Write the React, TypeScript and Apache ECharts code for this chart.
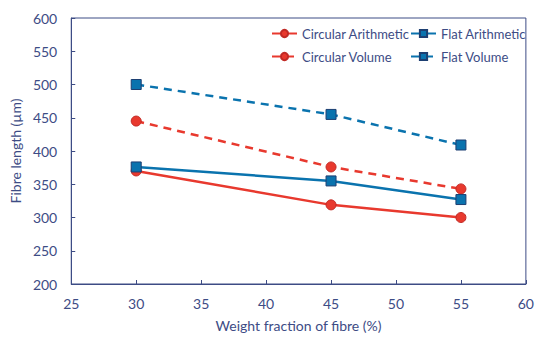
import React, { useEffect, useRef } from "react";
import * as echarts from "echarts";

const xValues = [30, 45, 55];
const circularArithmetic = [370, 319, 300];
const flatArithmetic = [376, 355, 327];
const circularVolume = [445, 376, 343];
const flatVolume = [500, 455, 409];

const RED = "#e8392e";
const RED_BORDER = "#c12a25";
const BLUE = "#0a73ae";
const BLUE_BORDER = "#1d3f72";
const AXIS = "#3d4c85";
const TEXT = "#3d4c85";
const FONT = "Lato";

function pairs(vals: number[]) {
  return xValues.map((x, i) => [x, vals[i]]);
}

export default function App() {
  const ref = useRef<HTMLDivElement>(null);
  useEffect(() => {
    if (!ref.current) return;
    const chart = echarts.init(ref.current, undefined, { renderer: "svg" });
    const mk = (name: string, data: number[], circ: boolean, dashed: boolean) => ({
      name,
      type: "line",
      data: pairs(data),
      symbol: circ ? "circle" : "rect",
      symbolSize: 10,
      lineStyle: {
        color: circ ? RED : BLUE,
        width: 2.5,
        type: dashed ? [8, 6] : "solid",
      },
      itemStyle: {
        color: circ ? RED : BLUE,
        borderColor: circ ? RED_BORDER : BLUE_BORDER,
        borderWidth: 1,
      },
    });
    const legendCommon = {
      orient: "vertical",
      top: 27,
      padding: 0,
      itemGap: 10,
      itemWidth: 25,
      itemHeight: 9,
      textStyle: { color: TEXT, fontFamily: FONT, fontSize: 13, overflow: "none" },
    };
    chart.setOption({
      animation: false,
      textStyle: { fontFamily: FONT },
      legend: [
        { ...legendCommon, left: 271, data: ["Circular Arithmetic", "Circular Volume"] },
        { ...legendCommon, left: 410, width: 125, data: ["Flat Arithmetic", "Flat Volume"] },
      ],
      grid: {
        left: 71,
        right: 6,
        top: 18,
        bottom: 51,
        show: true,
        borderColor: AXIS,
        borderWidth: 1,
        containLabel: false,
      },
      xAxis: {
        type: "value",
        min: 25,
        max: 60,
        interval: 5,
        name: "Weight fraction of fibre (%)",
        nameLocation: "middle",
        nameGap: 34,
        nameTextStyle: { color: TEXT, fontFamily: FONT, fontSize: 14 },
        axisLine: { show: true, lineStyle: { color: AXIS, width: 1 } },
        axisTick: { show: true, inside: true, length: 4, lineStyle: { color: AXIS } },
        axisLabel: { color: TEXT, fontFamily: FONT, fontSize: 14, margin: 12 },
        splitLine: { show: false },
      },
      yAxis: {
        type: "value",
        min: 200,
        max: 600,
        interval: 50,
        name: "Fibre length (µm)",
        nameLocation: "middle",
        nameGap: 46,
        nameTextStyle: { color: TEXT, fontFamily: FONT, fontSize: 14 },
        axisLine: { show: true, lineStyle: { color: AXIS, width: 1 } },
        axisTick: { show: true, inside: true, length: 4, lineStyle: { color: AXIS } },
        axisLabel: { color: TEXT, fontFamily: FONT, fontSize: 14, margin: 14 },
        splitLine: { show: false },
      },
      series: [
        mk("Circular Volume", circularVolume, true, true),
        mk("Flat Volume", flatVolume, false, true),
        mk("Circular Arithmetic", circularArithmetic, true, false),
        mk("Flat Arithmetic", flatArithmetic, false, false),
      ],
    });
    return () => chart.dispose();
  }, []);
  return <div ref={ref} style={{ width: 537, height: 337, position: "absolute", left: 0, top: 0 }} />;
}
